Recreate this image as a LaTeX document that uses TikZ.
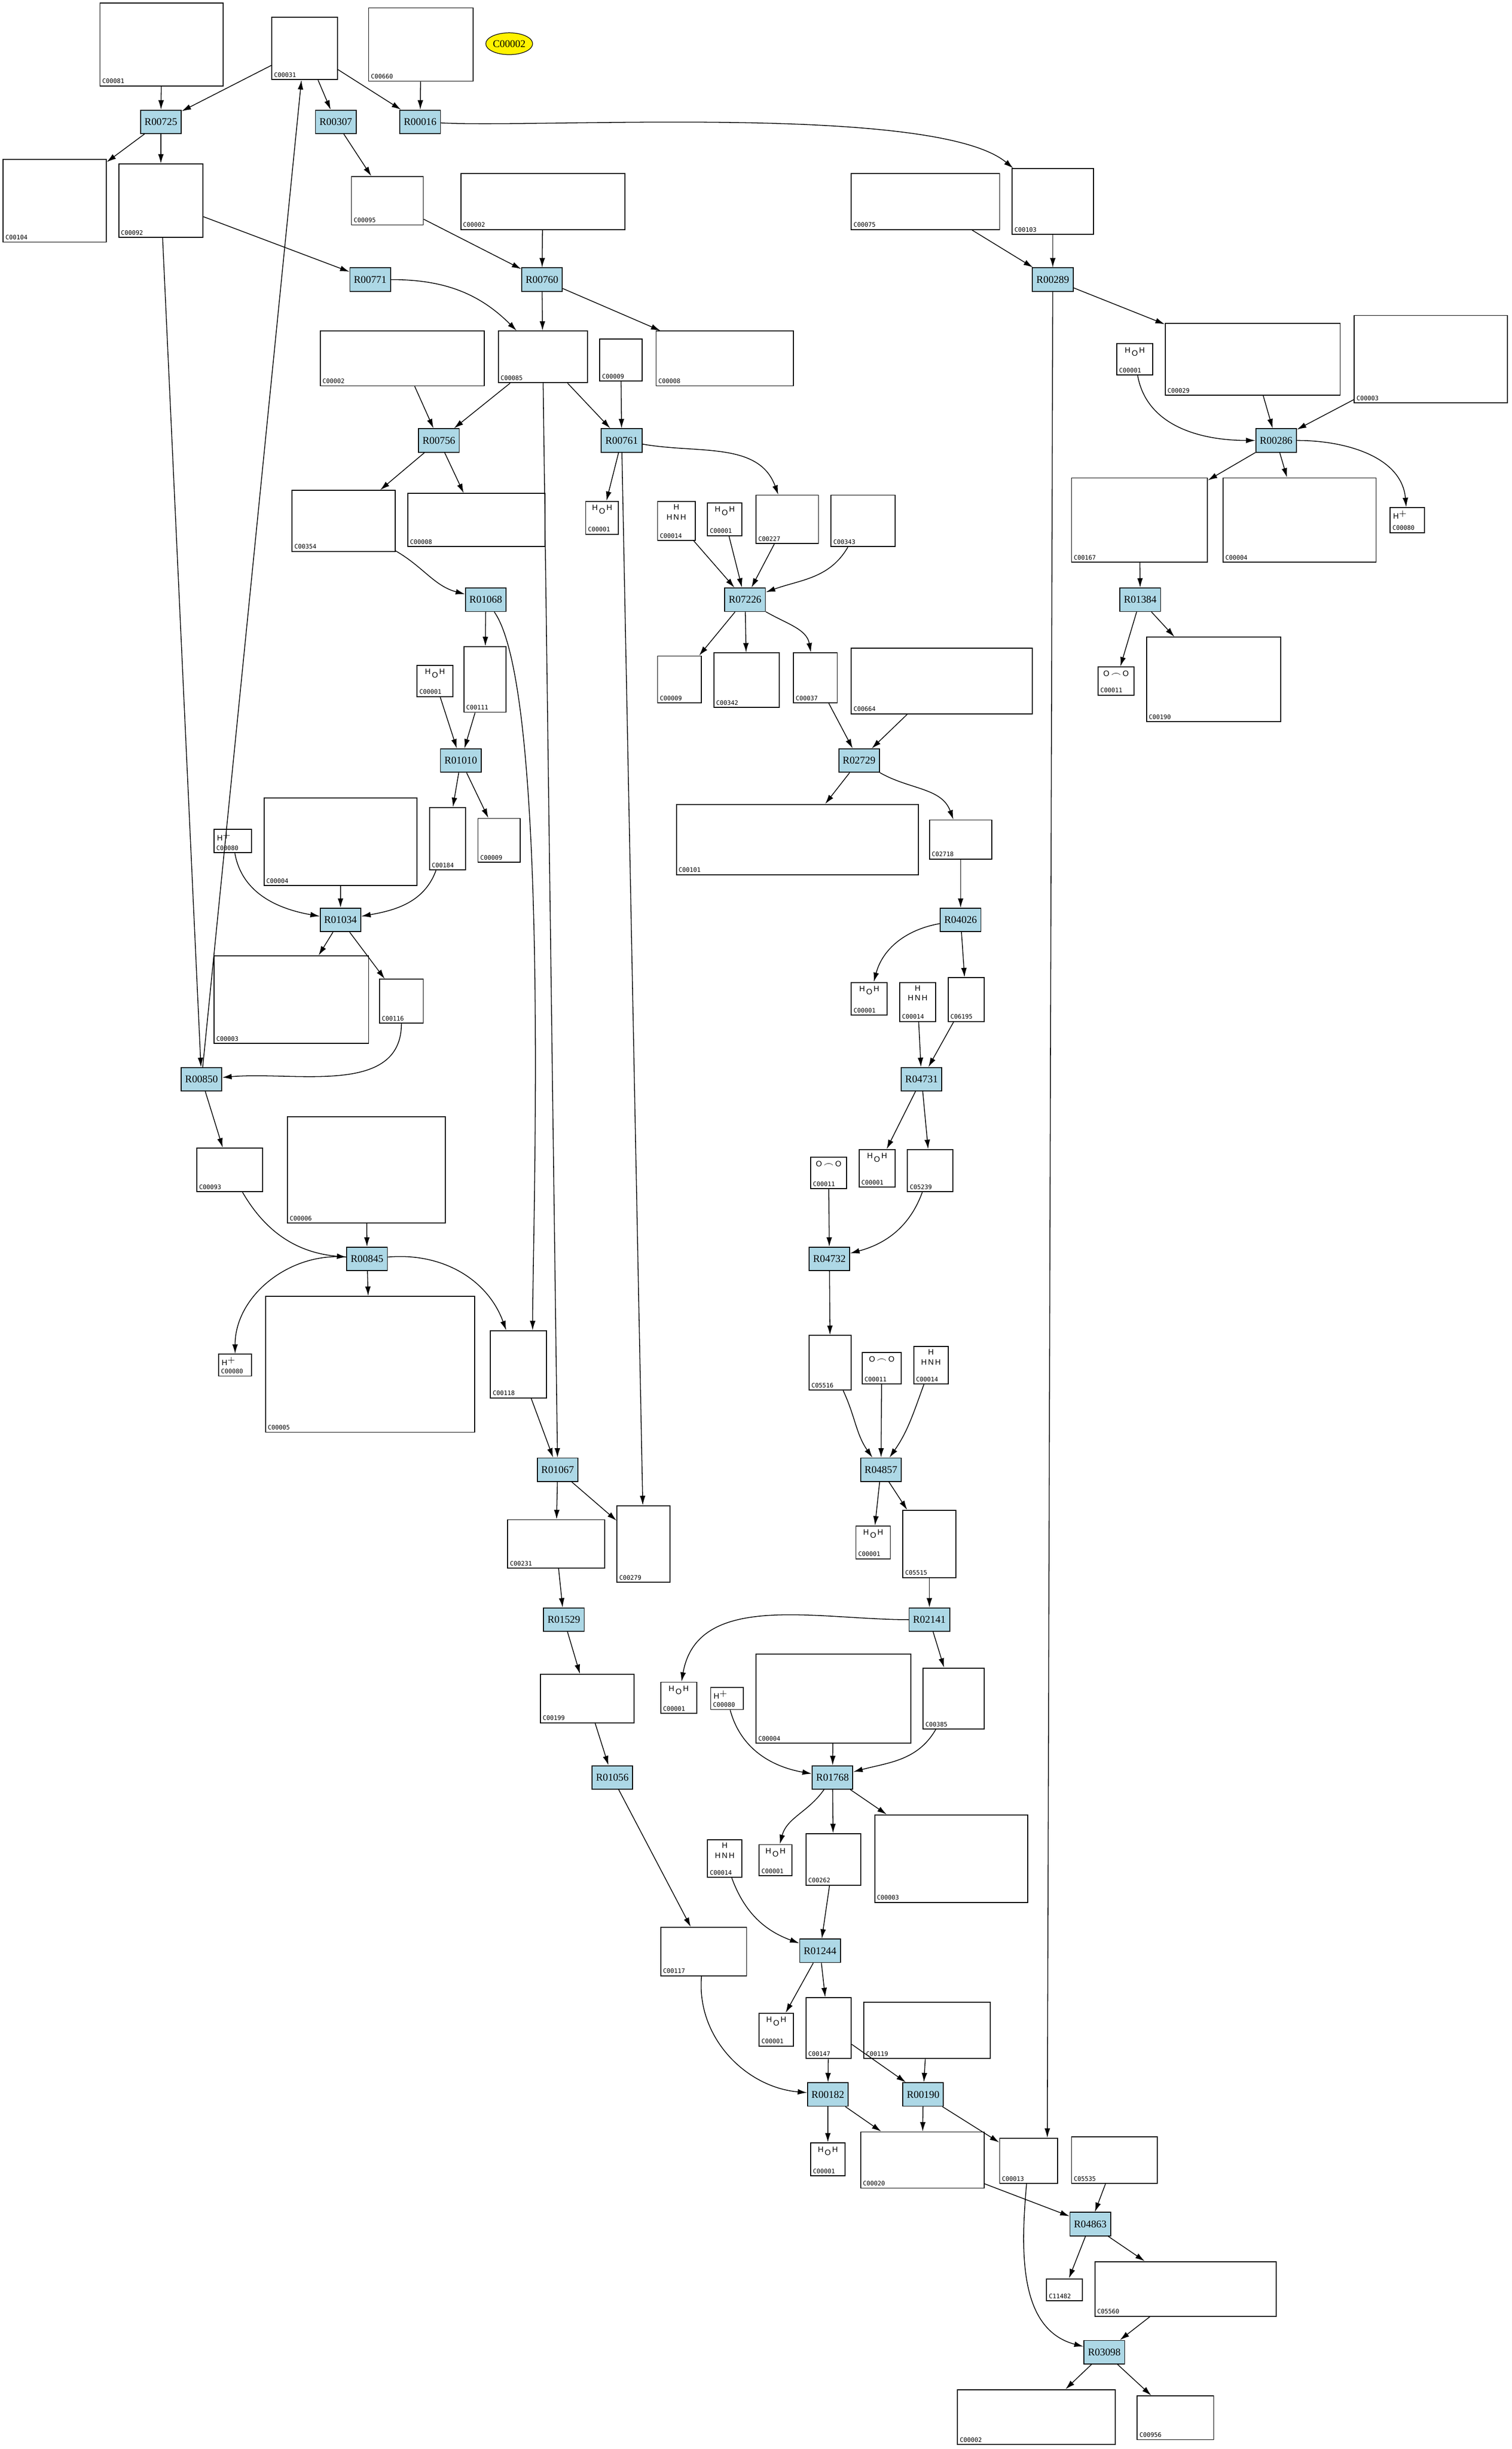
\documentclass[tikz,border=0pt]{standalone}
\usepackage{fontspec}
\setmainfont{Liberation Serif}
\setsansfont{Liberation Sans}
\setmonofont{DejaVu Sans Mono}
\usepackage{tikz}
\usepackage{xcolor}
\usetikzlibrary{shapes, arrows.meta}
\definecolor{rxblue}{HTML}{ADD8E6}
\newcommand{\rxfont}{\fontsize{6.6}{7}\selectfont}
\newcommand{\cidfont}{\ttfamily\fontsize{3.9}{4.2}\selectfont}
\newcommand{\atomfont}{\sffamily\fontsize{5}{5.5}\selectfont}
\tikzset{
  cid/.style={label={[anchor=south west, inner sep=1.6pt, font=\cidfont]south west:#1}},
  water/.style={label={[anchor=north, inner sep=2.5pt, font=\atomfont]north:{H\,\raisebox{-2pt}{O}\,H}}},
  ammonia/.style={label={[anchor=north, inner sep=2pt, font=\atomfont]north:{\shortstack{H\\H\,N\,H}}}},
  cotwo/.style={label={[anchor=north, inner sep=2.5pt, font=\atomfont]north:{O\,$\frown$\,O}}},
  hplus/.style={label={[anchor=north west, inner sep=2pt, font=\atomfont]north west:{H$^+$}}}
}

\begin{document}
\begin{tikzpicture}[x=1pt, y=-1pt]

\tikzstyle{reaction} = [rectangle, draw=black, fill=rxblue, font=\rxfont, minimum width=26, minimum height=15, inner sep=0pt, line width=0.6pt]
\tikzstyle{compound} = [rectangle, draw=black, fill=white, inner sep=0pt, line width=0.6pt]
\tikzstyle{arrow} = [line width=0.5pt, ->, >={Latex[length=6pt, width=3.6pt]}]

\fill[white] (0,0) rectangle (968,1568);
\useasboundingbox (0,0) rectangle (968,1568);

\node (R00725) [reaction] at (103,78) {R00725};
\node (R00307) [reaction] at (215,78) {R00307};
\node (R00016) [reaction] at (269,78) {R00016};
\node (R00771) [reaction] at (237,179) {R00771};
\node (R00760) [reaction] at (347,179) {R00760};
\node (R00289) [reaction] at (674,179) {R00289};
\node (R00756) [reaction] at (281,282) {R00756};
\node (R00761) [reaction] at (398,282) {R00761};
\node (R00286) [reaction] at (817,282) {R00286};
\node (R01068) [reaction] at (311,384) {R01068};
\node (R07226) [reaction] at (477,384) {R07226};
\node (R01384) [reaction] at (730,384) {R01384};
\node (R01010) [reaction] at (295,487) {R01010};
\node (R02729) [reaction] at (550,487) {R02729};
\node (R01034) [reaction] at (218,589) {R01034};
\node (R04026) [reaction] at (615,589) {R04026};
\node (R00850) [reaction] at (129,691) {R00850};
\node (R04731) [reaction] at (590,691) {R04731};
\node (R00845) [reaction] at (235,806) {R00845};
\node (R04732) [reaction] at (531,806) {R04732};
\node (R01067) [reaction] at (357,941) {R01067};
\node (R04857) [reaction] at (564,941) {R04857};
\node (R01529) [reaction] at (361,1037) {R01529};
\node (R02141) [reaction] at (595,1037) {R02141};
\node (R01056) [reaction] at (392,1138) {R01056};
\node (R01768) [reaction] at (533,1138) {R01768};
\node (R01244) [reaction] at (525,1249) {R01244};
\node (R00182) [reaction] at (530,1341) {R00182};
\node (R00190) [reaction] at (591,1341) {R00190};
\node (R04863) [reaction] at (698,1424) {R04863};
\node (R03098) [reaction] at (707,1506) {R03098};

\node (c2e) [ellipse, draw=black, fill=yellow, font=\rxfont, minimum width=30, minimum height=14, inner sep=0pt] at (326,28) {C00002};

\node (c81) [compound, minimum width=79, minimum height=53, cid=C00081] at (103.5,28.5) {};
\node (c31) [compound, minimum width=42, minimum height=40, cid=C00031] at (195,31) {};
\node (c660) [compound, minimum width=67, minimum height=47, cid=C00660] at (269.5,28.5) {};
\node (c104) [compound, minimum width=66, minimum height=53, cid=C00104] at (35,128.5) {};
\node (c92) [compound, minimum width=54, minimum height=47, cid=C00092] at (103,128.5) {};
\node (c95) [compound, minimum width=46, minimum height=31, cid=C00095] at (248,128.5) {};
\node (c2a) [compound, minimum width=105, minimum height=36, cid=C00002] at (347.5,129) {};
\node (c75) [compound, minimum width=95, minimum height=36, cid=C00075] at (592.5,129) {};
\node (c103) [compound, minimum width=52, minimum height=42, cid=C00103] at (674,129) {};
\node (c2b) [compound, minimum width=105, minimum height=35, cid=C00002] at (257.5,229.5) {};
\node (c85) [compound, minimum width=57, minimum height=33, cid=C00085] at (347.5,228.5) {};
\node (c9a) [compound, minimum width=27, minimum height=27, cid=C00009] at (397.5,230.5) {};
\node (c8a) [compound, minimum width=88, minimum height=35, cid=C00008] at (464,229.5) {};
\node (w1) [compound, minimum width=23, minimum height=20, cid=C00001, water] at (726.5,230) {};
\node (c29) [compound, minimum width=112, minimum height=46, cid=C00029] at (802,230) {};
\node (c3a) [compound, minimum width=98, minimum height=56, cid=C00003] at (916,230) {};
\node (c354) [compound, minimum width=66, minimum height=39, cid=C00354] at (220,333.5) {};
\node (c8b) [compound, minimum width=88, minimum height=34, cid=C00008] at (305,333) {};
\node (w2) [compound, minimum width=21, minimum height=21, cid=C00001, water] at (385.5,331.5) {};
\node (n1) [compound, minimum width=24, minimum height=25, cid=C00014, ammonia] at (433,333.5) {};
\node (w3) [compound, minimum width=22, minimum height=21, cid=C00001, water] at (464,332.5) {};
\node (c227) [compound, minimum width=40, minimum height=31, cid=C00227] at (504,332.5) {};
\node (c343) [compound, minimum width=41, minimum height=33, cid=C00343] at (552.5,333.5) {};
\node (c167) [compound, minimum width=87, minimum height=54, cid=C00167] at (729.5,333) {};
\node (c4a) [compound, minimum width=98, minimum height=54, cid=C00004] at (832,333) {};
\node (h1) [compound, minimum width=22, minimum height=16, cid=C00080, hplus] at (901,333) {};
\node (w4) [compound, minimum width=23, minimum height=20, cid=C00001, water] at (278.5,436) {};
\node (c111) [compound, minimum width=27, minimum height=42, cid=C00111] at (310.5,435) {};
\node (c9b) [compound, minimum width=28, minimum height=30, cid=C00009] at (435,435) {};
\node (c342) [compound, minimum width=42, minimum height=35, cid=C00342] at (478,435.5) {};
\node (c37) [compound, minimum width=28, minimum height=32, cid=C00037] at (522,434) {};
\node (c664) [compound, minimum width=116, minimum height=42, cid=C00664] at (603,436) {};
\node (co1) [compound, minimum width=23, minimum height=18, cid=C00011, cotwo] at (714.5,436) {};
\node (c190) [compound, minimum width=86, minimum height=54, cid=C00190] at (777,435) {};
\node (h2) [compound, minimum width=24, minimum height=15, cid=C00080, hplus] at (149,538.5) {};
\node (c4b) [compound, minimum width=98, minimum height=56, cid=C00004] at (218,539) {};
\node (c184) [compound, minimum width=23, minimum height=40, cid=C00184] at (286.5,537) {};
\node (c9c) [compound, minimum width=27, minimum height=28, cid=C00009] at (319.5,538) {};
\node (c101) [compound, minimum width=155, minimum height=45, cid=C00101] at (510.5,537.5) {};
\node (c2718) [compound, minimum width=40, minimum height=25, cid=C02718] at (615,537.5) {};
\node (c3b) [compound, minimum width=99, minimum height=56, cid=C00003] at (186.5,640) {};
\node (c116) [compound, minimum width=28, minimum height=28, cid=C00116] at (257,641) {};
\node (w5) [compound, minimum width=23, minimum height=21, cid=C00001, water] at (556.5,639.5) {};
\node (n2) [compound, minimum width=23, minimum height=25, cid=C00014, ammonia] at (587.5,641.5) {};
\node (c6195) [compound, minimum width=23, minimum height=28, cid=C06195] at (618.5,640) {};
\node (c6) [compound, minimum width=101, minimum height=68, cid=C00006] at (234.5,749) {};
\node (c93) [compound, minimum width=42, minimum height=28, cid=C00093] at (147,749) {};
\node (co2) [compound, minimum width=23, minimum height=20, cid=C00011, cotwo] at (530.5,751) {};
\node (w6) [compound, minimum width=23, minimum height=24, cid=C00001, water] at (561.5,748) {};
\node (c5239) [compound, minimum width=29, minimum height=27, cid=C05239] at (595.5,749.5) {};
\node (h3) [compound, minimum width=21, minimum height=14, cid=C00080, hplus] at (150.5,874) {};
\node (c5) [compound, minimum width=134, minimum height=87, cid=C00005] at (237,873.5) {};
\node (c118) [compound, minimum width=36, minimum height=43, cid=C00118] at (332,873.5) {};
\node (c5516) [compound, minimum width=27, minimum height=35, cid=C05516] at (531.5,872.5) {};
\node (co3) [compound, minimum width=25, minimum height=20, cid=C00011, cotwo] at (564.5,876) {};
\node (n3) [compound, minimum width=22, minimum height=24, cid=C00014, ammonia] at (596,874) {};
\node (c231) [compound, minimum width=62, minimum height=31, cid=C00231] at (356,988.5) {};
\node (c279) [compound, minimum width=34, minimum height=49, cid=C00279] at (412,988.5) {};
\node (w7) [compound, minimum width=22, minimum height=21, cid=C00001, water] at (559,987.5) {};
\node (c5515) [compound, minimum width=34, minimum height=43, cid=C05515] at (595,988.5) {};
\node (c199) [compound, minimum width=60, minimum height=31, cid=C00199] at (376,1087.5) {};
\node (w8) [compound, minimum width=23, minimum height=20, cid=C00001, water] at (434.5,1087) {};
\node (h4) [compound, minimum width=21, minimum height=14, cid=C00080, hplus] at (465.5,1087.5) {};
\node (c4c) [compound, minimum width=99, minimum height=57, cid=C00004] at (533.5,1087.5) {};
\node (c385) [compound, minimum width=39, minimum height=39, cid=C00385] at (610.5,1087.5) {};
\node (n4) [compound, minimum width=22, minimum height=24, cid=C00014, ammonia] at (464,1190) {};
\node (w9) [compound, minimum width=21, minimum height=20, cid=C00001, water] at (496.5,1191) {};
\node (c262) [compound, minimum width=35, minimum height=33, cid=C00262] at (533.5,1190.5) {};
\node (c3c) [compound, minimum width=98, minimum height=56, cid=C00003] at (609,1190) {};
\node (c117) [compound, minimum width=55, minimum height=31, cid=C00117] at (450.5,1249.5) {};
\node (w10) [compound, minimum width=22, minimum height=21, cid=C00001, water] at (497,1299.5) {};
\node (c147) [compound, minimum width=29, minimum height=39, cid=C00147] at (530.5,1298.5) {};
\node (c119) [compound, minimum width=81, minimum height=36, cid=C00119] at (593.5,1300) {};
\node (w11) [compound, minimum width=22, minimum height=21, cid=C00001, water] at (530,1382.5) {};
\node (c20) [compound, minimum width=79, minimum height=36, cid=C00020] at (590.5,1383) {};
\node (c13) [compound, minimum width=37, minimum height=29, cid=C00013] at (658.5,1383.5) {};
\node (c5535) [compound, minimum width=55, minimum height=30, cid=C05535] at (713.5,1383) {};
\node (c11482) [compound, minimum width=23, minimum height=14, cid=C11482] at (681.5,1466) {};
\node (c5560) [compound, minimum width=116, minimum height=35, cid=C05560] at (759,1465.5) {};
\node (c2c) [compound, minimum width=101, minimum height=35, cid=C00002] at (663.5,1547.5) {};
\node (c956) [compound, minimum width=49, minimum height=28, cid=C00956] at (752.5,1548) {};

\draw [arrow] (c81) -- (R00725);
\draw [arrow] (c31) -- (R00725);
\draw [arrow] (R00725) -- (c104);
\draw [arrow] (R00725) -- (c92);
\draw [arrow] (c31) -- (R00307);
\draw [arrow] (R00307) -- (c95);
\draw [arrow] (c31) -- (R00016);
\draw [arrow] (c660) -- (R00016);
\draw [arrow] (R00016) to[out=-3, in=140, looseness=0.45] (c103);
\draw [arrow] (c92) -- (R00771);
\draw [arrow] (c92) -- (R00850);
\draw [arrow] (R00850) -- (c31);
\draw [arrow] (c95) -- (R00760);
\draw [arrow] (c2a) -- (R00760);
\draw [arrow] (R00771) to[out=0, in=135] (c85);
\draw [arrow] (R00760) -- (c85);
\draw [arrow] (R00760) -- (c8a);
\draw [arrow] (c85) -- (R00756);
\draw [arrow] (c2b) -- (R00756);
\draw [arrow] (R00756) -- (c354);
\draw [arrow] (R00756) -- (c8b);
\draw [arrow] (c85) -- (R00761);
\draw [arrow] (c9a) -- (R00761);
\draw [arrow] (R00761) -- (w2);
\draw [arrow] (R00761) to[out=-10, in=110] (c227);
\draw [arrow] (R00761) -- (c279);
\draw [arrow] (c85) -- (R01067);
\draw [arrow] (c354) to[out=-30, in=165] (R01068);
\draw [arrow] (R01068) -- (c111);
\draw [arrow] (R01068) to[out=-55, in=90, looseness=0.35] ([xshift=9pt]c118.north);
\draw [arrow] (w4) -- (R01010);
\draw [arrow] (c111) -- (R01010);
\draw [arrow] (R01010) -- (c184);
\draw [arrow] (R01010) -- (c9c);
\draw [arrow] (h2) to[out=-80, in=170] (R01034);
\draw [arrow] (c4b) -- (R01034);
\draw [arrow] (c184) to[out=-110, in=10] (R01034);
\draw [arrow] (R01034) -- (c3b);
\draw [arrow] (R01034) -- (c116);
\draw [arrow] (c116) to[out=-90, in=5] (R00850);
\draw [arrow] (R00850) -- (c93);
\draw [arrow] (c93) to[out=-60, in=175] (R00845);
\draw [arrow] (c6) -- (R00845);
\draw [arrow] (R00845) to[out=175, in=90] (h3);
\draw [arrow] (R00845) -- (c5);
\draw [arrow] (R00845) to[out=5, in=110] (c118);
\draw [arrow] (c118) -- (R01067);
\draw [arrow] (R01067) -- (c231);
\draw [arrow] (R01067) -- (c279);
\draw [arrow] (c231) -- (R01529);
\draw [arrow] (R01529) -- (c199);
\draw [arrow] (c199) -- (R01056);
\draw [arrow] (R01056) -- (c117);
\draw [arrow] (c117) to[out=-95, in=175] (R00182);
\draw [arrow] (n1) -- (R07226);
\draw [arrow] (w3) -- (R07226);
\draw [arrow] (c227) -- (R07226);
\draw [arrow] (c343) to[out=-120, in=20] (R07226);
\draw [arrow] (R07226) -- (c9b);
\draw [arrow] (R07226) -- (c342);
\draw [arrow] (R07226) to[out=-30, in=100] (c37);
\draw [arrow] (c37) -- (R02729);
\draw [arrow] (c664) -- (R02729);
\draw [arrow] (R02729) -- (c101);
\draw [arrow] (R02729) to[out=-30, in=110] (c2718);
\draw [arrow] (c2718) -- (R04026);
\draw [arrow] (R04026) to[out=190, in=75] (w5);
\draw [arrow] (R04026) -- (c6195);
\draw [arrow] (n2) -- (R04731);
\draw [arrow] (c6195) -- (R04731);
\draw [arrow] (R04731) -- (w6);
\draw [arrow] (R04731) -- (c5239);
\draw [arrow] (co2) -- (R04732);
\draw [arrow] (c5239) to[out=-110, in=15] (R04732);
\draw [arrow] (R04732) -- (c5516);
\draw [arrow] (c5516) to[out=-65, in=125] (R04857);
\draw [arrow] (co3) -- (R04857);
\draw [arrow] (n3) to[out=-110, in=55] (R04857);
\draw [arrow] (R04857) -- (w7);
\draw [arrow] (R04857) -- (c5515);
\draw [arrow] (c5515) -- (R02141);
\draw [arrow] (R02141) to[out=180, in=80] (w8);
\draw [arrow] (R02141) -- (c385);
\draw [arrow] (h4) to[out=-75, in=170] (R01768);
\draw [arrow] (c4c) -- (R01768);
\draw [arrow] (c385) to[out=-120, in=15] (R01768);
\draw [arrow] (R01768) to[out=-125, in=75] (w9);
\draw [arrow] (R01768) -- (c262);
\draw [arrow] (R01768) -- (c3c);
\draw [arrow] (n4) to[out=-70, in=160] (R01244);
\draw [arrow] (c262) -- (R01244);
\draw [arrow] (R01244) -- (w10);
\draw [arrow] (R01244) -- (c147);
\draw [arrow] (c147) -- (R00182);
\draw [arrow] (c147) -- (R00190);
\draw [arrow] (c119) -- (R00190);
\draw [arrow] (R00182) -- (w11);
\draw [arrow] (R00182) -- (c20);
\draw [arrow] (R00190) -- (c20);
\draw [arrow] (R00190) -- (c13);
\draw [arrow] (c13) to[out=-95, in=165] (R03098);
\draw [arrow] (c20) -- (R04863);
\draw [arrow] (c5535) -- (R04863);
\draw [arrow] (R04863) -- (c11482);
\draw [arrow] (R04863) -- (c5560);
\draw [arrow] (c5560) -- (R03098);
\draw [arrow] (R03098) -- (c2c);
\draw [arrow] (R03098) -- (c956);
\draw [arrow] (c75) -- (R00289);
\draw [arrow] (c103) -- (R00289);
\draw [arrow] (R00289) -- (c29);
\draw [arrow] (R00289) -- ([xshift=12pt]c13.north);
\draw [arrow] (w1) to[out=-80, in=180] (R00286);
\draw [arrow] (c29) -- (R00286);
\draw [arrow] (c3a) -- (R00286);
\draw [arrow] (R00286) -- (c167);
\draw [arrow] (R00286) -- (c4a);
\draw [arrow] (R00286) to[out=0, in=95] (h1);
\draw [arrow] (c167) -- (R01384);
\draw [arrow] (R01384) -- (co1);
\draw [arrow] (R01384) -- (c190);
\end{tikzpicture}
\end{document}
